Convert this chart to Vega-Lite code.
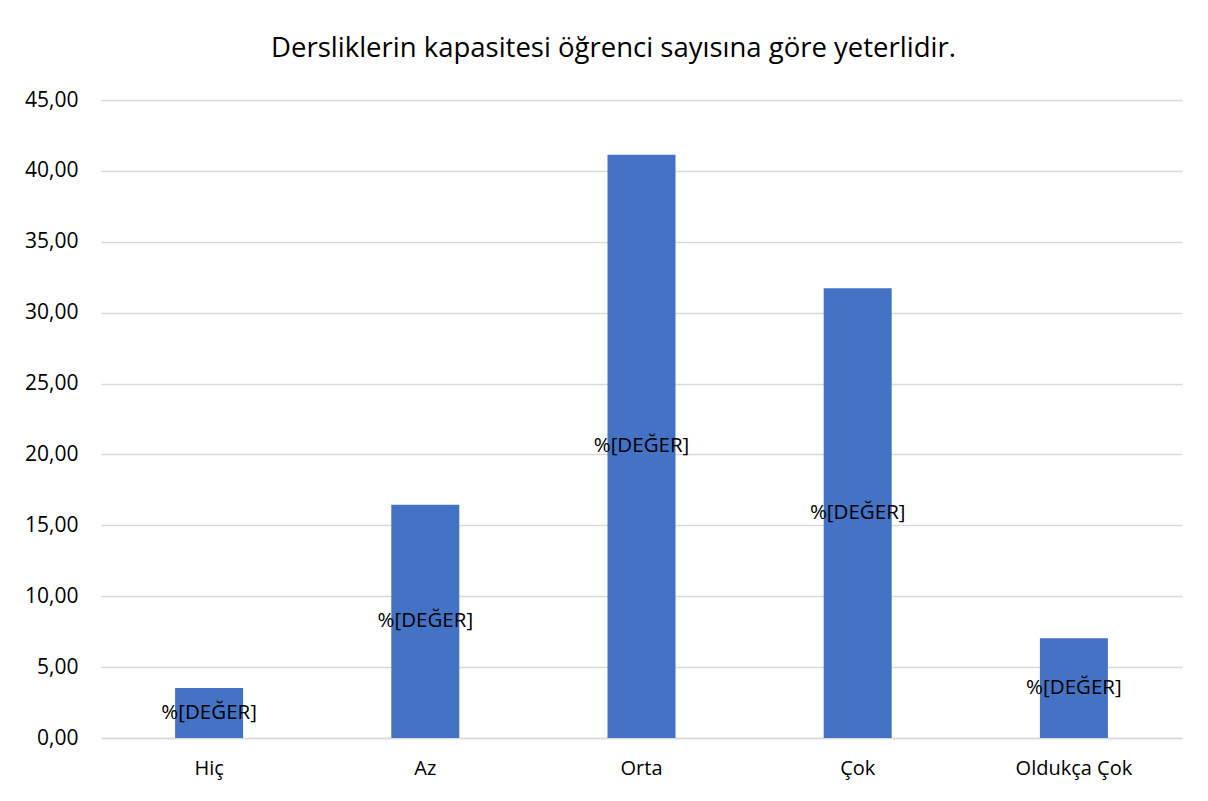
{
  "$schema": "https://vega.github.io/schema/vega-lite/v6.json",
  "width": 1081,
  "height": 638,
  "autosize": "none",
  "padding": {"left": 101, "top": 100, "right": 26, "bottom": 63},
  "background": "white",
  "config": {
    "locale": {"number": {"decimal": ",", "thousands": ".", "grouping": [3], "currency": ["", " ₺"]}},
    "view": {"stroke": null},
    "font": "Open Sans"
  },
  "title": {
    "text": "Dersliklerin kapasitesi öğrenci sayısına göre yeterlidir.",
    "font": "Open Sans",
    "fontSize": 27.5,
    "fontWeight": "normal",
    "color": "#000000",
    "anchor": "middle",
    "baseline": "alphabetic",
    "offset": 41,
    "dx": -28,
    "dy": 36
  },
  "data": {
    "values": [
      {"kategori": "Hiç", "yuzde": 3.53},
      {"kategori": "Az", "yuzde": 16.45},
      {"kategori": "Orta", "yuzde": 41.14},
      {"kategori": "Çok", "yuzde": 31.72},
      {"kategori": "Oldukça Çok", "yuzde": 7.04}
    ]
  },
  "encoding": {
    "x": {
      "field": "kategori",
      "type": "nominal",
      "sort": null,
      "scale": {"paddingInner": 0.6855, "paddingOuter": 0.34275},
      "axis": {
        "title": null,
        "labelAngle": 0,
        "labelFont": "Open Sans",
        "labelFontSize": 20,
        "labelColor": "#000000",
        "labelPadding": 20,
        "ticks": false,
        "domainColor": "#d9d9d9",
        "domainWidth": 1.5
      }
    }
  },
  "layer": [
    {
      "mark": {"type": "bar", "color": "#4472C4"},
      "encoding": {
        "y": {
          "field": "yuzde",
          "type": "quantitative",
          "scale": {"domain": [0, 45], "nice": false},
          "axis": {
            "title": null,
            "values": [0, 5, 10, 15, 20, 25, 30, 35, 40, 45],
            "format": ".2f",
            "labelFont": "Open Sans",
            "labelFontSize": 21,
            "labelColor": "#000000",
            "labelPadding": 23,
            "ticks": false,
            "domain": false,
            "gridColor": "#d9d9d9",
            "gridWidth": 1.5
          }
        }
      }
    },
    {
      "mark": {"type": "text", "align": "center", "baseline": "middle", "font": "Open Sans", "fontSize": 20.5, "color": "#000000"},
      "encoding": {
        "y": {
          "field": "yuzde",
          "type": "quantitative",
          "scale": {"domain": [0, 90], "nice": false},
          "axis": null
        },
        "text": {"value": "%[DEĞER]"}
      }
    }
  ],
  "resolve": {"scale": {"y": "independent"}}
}
